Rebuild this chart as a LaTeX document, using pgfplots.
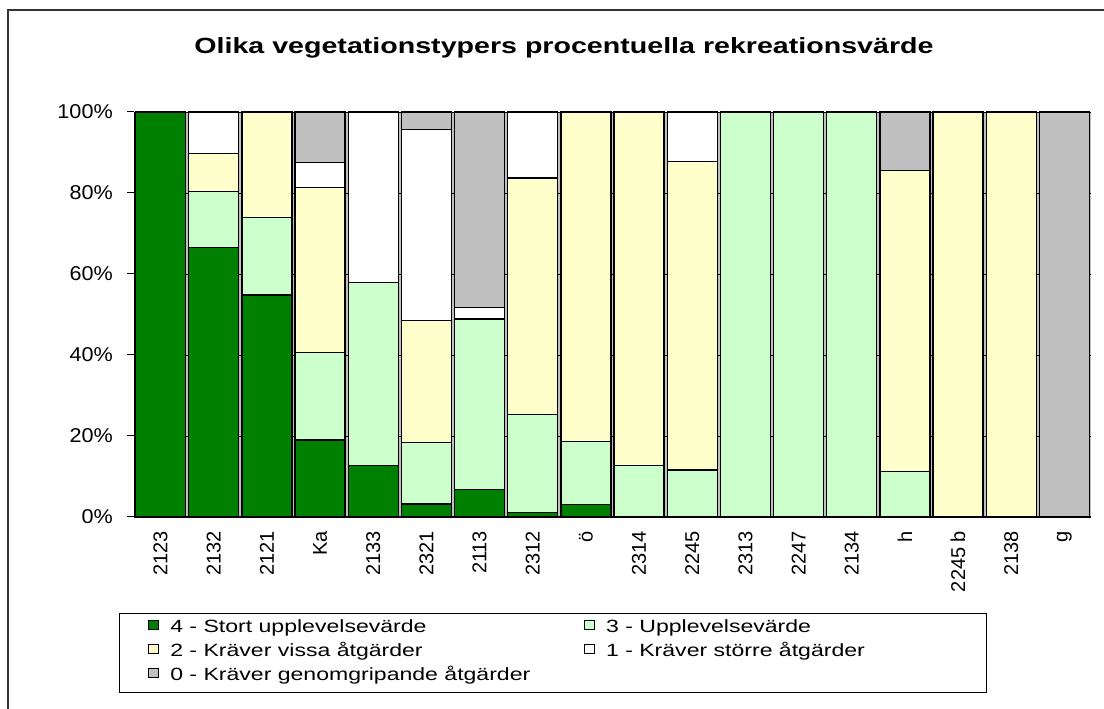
\documentclass[border=0pt]{standalone}
\usepackage{fontspec}
\setmainfont{Liberation Sans}
\newfontfamily\titlefont{Liberation Sans}[FakeStretch=1.3]
\newfontfamily\legfont{Liberation Sans}[FakeStretch=1.3]
\newfontfamily\tickfont{Liberation Sans}[FakeStretch=1.08]
\usepackage{pgfplots}
\usepackage{pgfplotstable}
\pgfplotsset{compat=1.18}
\definecolor{dkgreen}{RGB}{0,128,0}
\definecolor{ltgreen}{RGB}{204,255,204}
\definecolor{ltyellow}{RGB}{255,255,204}
\definecolor{bggray}{RGB}{192,192,192}

\pgfplotstableread{
x s4 s3 s2 s1 s0
0 100 0 0 0 0
1 66.5 13.8 9.5 10.2 0
2 54.8 19.2 26.0 0 0
3 19.0 21.7 40.7 6.1 12.5
4 12.7 45.2 0 42.1 0
5 3.2 15.2 30.1 47.1 4.4
6 6.7 42.2 0 2.9 48.2
7 1.1 24.3 58.3 16.3 0
8 3.0 15.6 81.4 0 0
9 0 12.7 87.3 0 0
10 0 11.6 76.2 12.2 0
11 0 100 0 0 0
12 0 100 0 0 0
13 0 100 0 0 0
14 0 11.2 74.3 0 14.5
15 0 0 100 0 0
16 0 0 100 0 0
17 0 0 0 0 100
}\data

\begin{document}
\begin{tikzpicture}
\useasboundingbox (0,0) rectangle (828pt,531.75pt);
\draw[line width=1.1pt, black!80] (6pt,0) -- (6pt,524.25pt) -- (828pt,524.25pt);
\node[font=\titlefont\bfseries\fontsize{16.5}{19}\selectfont, anchor=base] at (423pt,491.25pt) {Olika vegetationstypers procentuella rekreationsvärde};
\begin{axis}[
  at={(100.5pt,144pt)}, anchor=south west,
  scale only axis, width=717.75pt, height=303.75pt,
  ybar stacked, bar width=0.94,
  xmin=-0.5, xmax=17.5, ymin=0, ymax=100,
  axis lines*=left,
  axis line style={black, line width=0.75pt},
  axis background/.style={fill=bggray},
  tick align=outside, major tick length=5.25pt,
  tick style={black, line width=0.75pt},
  xtick={0,...,17},
  xticklabels={2123,2132,2121,Ka,2133,2321,2113,2312,ö,2314,2245,2313,2247,2134,h,2245 b,2138,g},
  xtick style={draw=none},
  extra x ticks={-0.5,0.5,...,17.5},
  extra x tick labels={},
  extra x tick style={tick style={black, line width=0.75pt}, major tick length=5.25pt},
  ytick={0,20,...,100},
  yticklabels={0\%,20\%,40\%,60\%,80\%,100\%},
  ymajorgrids, grid style={black, line width=0.6pt},
  yticklabel style={font=\tickfont\fontsize{15}{18}\selectfont, inner ysep=0pt, inner xsep=0pt, xshift=-10.5pt, anchor=east},
  xticklabel style={font=\fontsize{15}{18}\selectfont, inner ysep=0pt, inner xsep=5pt, rotate=90, anchor=east},
  every axis plot/.append style={draw=black, line width=0.9pt},
  legend columns=2, legend cell align=left,
  legend style={at={(-0.0157,-0.237)}, anchor=north west, draw=black, line width=0.75pt,
    inner xsep=21.75pt, inner ysep=2.6pt,
    font=\legfont\fontsize{13.3}{16}\selectfont,
    nodes={inner sep=0pt, text height=12pt, text depth=6pt},
    /tikz/every odd column/.append style={column sep=8.25pt},
    /tikz/every even column/.append style={column sep=0pt}},
  legend image code/.code={\draw[#1, draw=black, line width=0.6pt] (0pt,0pt) rectangle (7.5pt,6.75pt);},
]
\addplot[fill=dkgreen] table[x=x,y=s4] {\data};
\addlegendentry{\makebox[310.5pt][l]{4 - Stort upplevelsevärde}}
\addplot[fill=ltgreen] table[x=x,y=s3] {\data};
\addlegendentry{\makebox[263.25pt][l]{3 - Upplevelsevärde}}
\addplot[fill=ltyellow] table[x=x,y=s2] {\data};
\addlegendentry{\makebox[310.5pt][l]{2 - Kräver vissa åtgärder}}
\addplot[fill=white] table[x=x,y=s1] {\data};
\addlegendentry{\makebox[263.25pt][l]{1 - Kräver större åtgärder}}
\addplot[fill=bggray] table[x=x,y=s0] {\data};
\addlegendentry{\makebox[310.5pt][l]{0 - Kräver genomgripande åtgärder}}
\end{axis}
\end{tikzpicture}
\end{document}
